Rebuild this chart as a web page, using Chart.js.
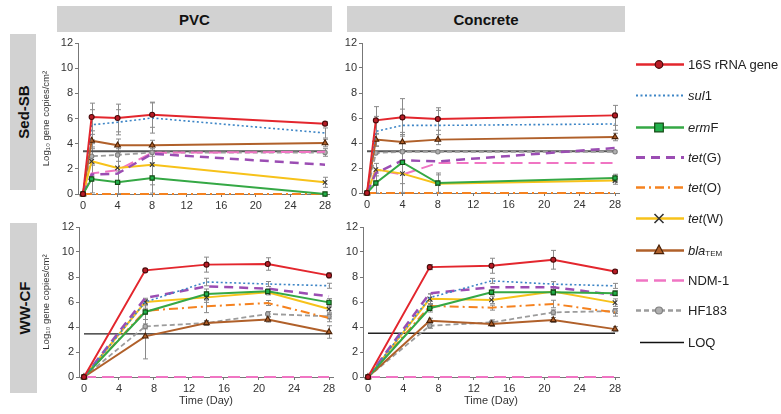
<!DOCTYPE html>
<html><head><meta charset="utf-8">
<script src="https://cdn.jsdelivr.net/npm/chart.js"></script>
<style>
body{margin:0;width:781px;height:414px;background:#fff;position:relative;overflow:hidden;font-family:"Liberation Sans",Arial,sans-serif;}
.hdr{position:absolute;background:#d2d2d2;font-weight:bold;font-size:15px;color:#111;display:flex;align-items:center;justify-content:center;}
.row{position:absolute;background:#d2d2d2;}
.row span{position:absolute;left:50%;top:50%;transform:translate(-50%,-50%) rotate(-90deg);font-weight:bold;font-size:15px;color:#111;white-space:nowrap;}
canvas.cv{position:absolute;}
#legend{position:absolute;left:630px;top:0;width:151px;height:414px;}
#legcv{position:absolute;left:0;top:0;}
.li{position:absolute;left:58px;font-size:13px;color:#222;white-space:nowrap;transform:translateY(-50%);}
.li sub{font-size:8px;vertical-align:-1px;}
</style></head><body>
<div class="hdr" id="h0" style="left:57px;top:6px;width:275px;height:26px;"></div>
<div class="hdr" id="h1" style="left:347px;top:6px;width:278px;height:26px;"></div>
<div class="row" style="left:10px;top:34px;width:26px;height:156px;"><span id="r0"></span></div>
<div class="row" style="left:10px;top:223px;width:27px;height:170px;"><span id="r1"></span></div>
<canvas class="cv" id="c0" width="302" height="184" style="left:38px;top:30px;"></canvas>
<canvas class="cv" id="c1" width="302" height="183" style="left:328px;top:30px;"></canvas>
<canvas class="cv" id="c2" width="306" height="194" style="left:38px;top:214px;"></canvas>
<canvas class="cv" id="c3" width="302" height="194" style="left:328px;top:214px;"></canvas>
<div id="legend"><canvas id="legcv" width="60" height="414"></canvas></div>
<script>
// ---------- DATA ----------
const panelTitles = ['PVC', 'Concrete'];
const rowTitles = ['Sed-SB', 'WW-CF'];
const seriesNames = ['16S rRNA gene', 'sul1', 'ermF', 'tet(G)', 'tet(O)', 'tet(W)', 'blaTEM', 'NDM-1', 'HF183'];
const legendHtml = ['16S rRNA gene', '<i>sul</i>1', '<i>erm</i>F', '<i>tet</i>(G)', '<i>tet</i>(O)', '<i>tet</i>(W)', '<i>bla</i><sub>TEM</sub>', 'NDM-1', 'HF183', 'LOQ'];
const sedDays = [0, 1, 4, 8, 28];
const wwDays = [0, 7, 14, 21, 28];
const xTickLabels = [0, 4, 8, 12, 16, 20, 24, 28];
const yTickLabels = [0, 2, 4, 6, 8, 10, 12];
const yTitle = 'Log\u2081\u2080 gene copies/cm\u00b2';
const xTitle = 'Time (Day)';

// PVC, Sed-SB
const pvcSed16S  = [0, 6.12, 6.04, 6.30, 5.59];
const pvcSedSul1 = [0, 5.50, 5.70, 6.04, 4.85];
const pvcSedErmF = [0, 1.19, 0.93, 1.27, 0.00];
const pvcSedTetG = [0, 1.55, 1.62, 3.20, 2.33];
const pvcSedTetO = [0, 0.00, 0.00, 0.00, 0.00];
const pvcSedTetW = [0, 2.60, 2.07, 2.33, 0.93];
const pvcSedBla  = [0, 4.24, 3.87, 3.87, 4.05];
const pvcSedNDM  = [0, 1.64, 1.90, 3.28, 3.35];
const pvcSedHF   = [0, 3.00, 3.10, 3.30, 3.30];
const pvcSedLOQ  = 3.4;
const pvcSed16SErr  = [0, 1.10, 1.10, 1.00, 0.15];
const pvcSedSul1Err = [0, 1.20, 1.00, 1.20, 0.40];
const pvcSedBlaErr  = [0, 0.50, 0.50, 0.40, 0.30];
const pvcSedTetWErr = [0, 1.40, 1.20, 1.60, 0.40];
const pvcSedErmFErr = [0, 1.10, 0.90, 1.20, 0.00];
const pvcSedHFErr   = [0, 0.60, 0.50, 0.30, 0.30];

// Concrete, Sed-SB
const conSed16S  = [0, 5.81, 6.05, 5.92, 6.21];
const conSedSul1 = [0, 4.93, 5.41, 5.41, 5.52];
const conSedErmF = [0, 0.80, 2.45, 0.80, 1.20];
const conSedTetG = [0, 1.60, 2.61, 2.53, 3.60];
const conSedTetO = [0, 0.00, 0.00, 0.00, 0.00];
const conSedTetW = [0, 1.87, 1.55, 0.75, 1.00];
const conSedBla  = [0, 4.27, 4.08, 4.27, 4.48];
const conSedNDM  = [0, 1.87, 1.47, 2.40, 2.40];
const conSedHF   = [0, 3.20, 3.30, 3.30, 3.30];
const conSedLOQ  = 3.35;
const conSed16SErr  = [0, 1.10, 1.50, 0.90, 0.80];
const conSedSul1Err = [0, 1.20, 1.30, 1.20, 0.50];
const conSedBlaErr  = [0, 0.50, 0.60, 0.40, 0.30];
const conSedErmFErr = [0, 0.80, 2.40, 0.80, 0.30];
const conSedTetWErr = [0, 0.50, 0.80, 0.70, 0.30];

// PVC, WW-CF
const pvcWw16S  = [0, 8.53, 8.99, 9.04, 8.13];
const pvcWwSul1 = [0, 6.00, 7.60, 7.44, 7.30];
const pvcWwErmF = [0, 5.20, 6.64, 6.85, 5.97];
const pvcWwTetG = [0, 6.32, 7.25, 7.07, 6.45];
const pvcWwTetO = [0, 5.30, 5.65, 5.92, 4.72];
const pvcWwTetW = [0, 6.00, 6.37, 6.77, 5.44];
const pvcWwBla  = [0, 3.25, 4.32, 4.59, 3.60];
const pvcWwNDM  = [0, 0.00, 0.00, 0.00, 0.00];
const pvcWwHF   = [0, 4.05, 4.32, 5.04, 4.85];
const pvcWwLOQ  = 3.45;
const pvcWw16SErr  = [0, 0.10, 0.60, 0.50, 0.20];
const pvcWwSul1Err = [0, 0.20, 0.30, 0.20, 0.20];
const pvcWwErmFErr = [0, 0.60, 0.40, 0.20, 0.30];
const pvcWwTetWErr = [0, 0.30, 0.40, 0.20, 0.30];
const pvcWwTetOErr = [0, 0.20, 0.50, 0.20, 0.30];
const pvcWwHFErr   = [0, 0.20, 0.20, 0.20, 0.20];
const pvcWwBlaErr  = [0, 1.80, 0.20, 0.20, 0.50];

// Concrete, WW-CF
const conWw16S  = [0, 8.79, 8.90, 9.38, 8.44];
const conWwSul1 = [0, 6.35, 7.69, 7.43, 7.29];
const conWwErmF = [0, 5.50, 6.78, 6.78, 6.70];
const conWwTetG = [0, 6.70, 7.18, 7.18, 6.57];
const conWwTetO = [0, 5.68, 5.55, 5.84, 5.17];
const conWwTetW = [0, 6.25, 6.17, 6.84, 5.95];
const conWwBla  = [0, 4.50, 4.24, 4.56, 3.83];
const conWwNDM  = [0, 0.00, 0.00, 0.00, 0.00];
const conWwHF   = [0, 4.10, 4.37, 5.17, 5.28];
const conWwLOQ  = 3.5;
const conWw16SErr  = [0, 0.20, 0.60, 0.75, 0.15];
const conWwSul1Err = [0, 0.30, 0.20, 0.20, 0.20];
const conWwErmFErr = [0, 0.30, 0.20, 0.20, 0.20];
const conWwTetWErr = [0, 0.40, 0.30, 0.30, 0.30];
const conWwTetOErr = [0, 0.20, 0.20, 0.30, 0.30];
const conWwHFErr   = [0, 0.20, 0.20, 0.20, 0.20];
const conWwBlaErr  = [0, 0.20, 0.20, 0.20, 0.20];

// ---------- STYLE ----------
const FONT = '"Liberation Sans", Arial, "DejaVu Sans", sans-serif';
const seriesStyle = [
  {color:'#e3262d', width:2,   dash:[],        point:'circle',   pr:2.5, pbg:'#b81c26', pbd:'#4a0a0a'},
  {color:'#3d85c6', width:1.6, dash:[2,2.5],   point:'circle',   pr:0},
  {color:'#35a845', width:2,   dash:[],        point:'rect',     pr:3,   pbg:'#22b14c', pbd:'#124a12'},
  {color:'#9b4db3', width:2.5, dash:[9,6],     point:'circle',   pr:0},
  {color:'#f5821f', width:2,   dash:[9,4,2,4], point:'circle',   pr:0},
  {color:'#f7c21a', width:2,   dash:[],        point:'crossRot', pr:3.2, pbg:'#333',  pbd:'#333'},
  {color:'#b0602a', width:2,   dash:[],        point:'triangle', pr:3.3, pbg:'#b0602a', pbd:'#4a2208'},
  {color:'#f075c3', width:2,   dash:[12,6],    point:'circle',   pr:0},
  {color:'#9c9c9c', width:1.8, dash:[5,3],     point:'circle',   pr:2.2, pbg:'#b0b0b0', pbd:'#808080'}
];

document.getElementById('h0').textContent = panelTitles[0];
document.getElementById('h1').textContent = panelTitles[1];
document.getElementById('r0').textContent = rowTitles[0];
document.getElementById('r1').textContent = rowTitles[1];

const errorBars = {
  id: 'errorBars',
  beforeDatasetsDraw(chart) {
    const ctx = chart.ctx, xs = chart.scales.x, ys = chart.scales.y;
    ctx.save();
    ctx.strokeStyle = '#8a8a8a';
    ctx.lineWidth = 1;
    ctx.setLineDash([]);
    chart.data.datasets.forEach(ds => {
      if (!ds.errors) return;
      ds.data.forEach((p, j) => {
        const e = ds.errors[j];
        if (!e) return;
        const x = Math.round(xs.getPixelForValue(p.x)) + 0.5;
        const yt = ys.getPixelForValue(p.y + e);
        const yb = ys.getPixelForValue(Math.max(0, p.y - e));
        ctx.beginPath();
        ctx.moveTo(x, yt); ctx.lineTo(x, yb);
        ctx.moveTo(x - 2.5, yt); ctx.lineTo(x + 2.5, yt);
        ctx.moveTo(x - 2.5, yb); ctx.lineTo(x + 2.5, yb);
        ctx.stroke();
      });
    });
    ctx.restore();
  }
};

function makePanel(id, days, vals, errs, loq, lay) {
  const datasets = vals.map((v, i) => {
    const s = seriesStyle[i];
    return {
      label: seriesNames[i],
      data: days.map((d, k) => ({x: d, y: v[k]})),
      errors: errs[i] || null,
      borderColor: s.color, borderWidth: s.width, borderDash: s.dash,
      pointStyle: s.point, pointRadius: s.pr, pointBackgroundColor: s.pbg || s.color,
      pointBorderColor: s.pbd || s.color, pointBorderWidth: 1.1,
      tension: 0, fill: false, clip: 8
    };
  });
  datasets.push({
    label: 'LOQ',
    data: [{x: xTickLabels[0], y: loq}, {x: xTickLabels[xTickLabels.length - 1], y: loq}],
    borderColor: lay.loqColor, borderWidth: lay.loqWidth, pointRadius: 0, fill: false
  });
  return new Chart(document.getElementById(id), {
    type: 'line',
    data: {datasets},
    plugins: [errorBars],
    options: {
      responsive: false, animation: false, devicePixelRatio: 1,
      layout: {padding: {top: 13, right: lay.padRight, left: 0, bottom: 0}},
      plugins: {legend: {display: false}, tooltip: {enabled: false}},
      scales: {
        x: {
          type: 'linear', min: lay.xmin, max: lay.xmax,
          afterBuildTicks: s => { s.ticks = xTickLabels.map(v => ({value: v})); },
          afterFit: s => { s.height = lay.xh; },
          grid: {drawOnChartArea: false, tickLength: 3, color: '#777'},
          border: {color: '#777', width: 1},
          ticks: {font: {size: 11, family: FONT}, color: '#333', padding: 2, maxRotation: 0, autoSkip: false},
          title: {display: lay.showX, text: xTitle, font: {size: 11, family: FONT}, color: '#333', padding: 0}
        },
        y: {
          min: 0, max: 12,
          afterBuildTicks: s => { s.ticks = yTickLabels.map(v => ({value: v})); },
          afterFit: s => { s.width = lay.yw; },
          grid: {drawOnChartArea: false, tickLength: 3, color: '#777'},
          border: {color: '#777', width: 1},
          ticks: {font: {size: 11, family: FONT}, color: '#333', padding: 2},
          title: {display: lay.showY, text: yTitle, font: {size: 9.5, family: FONT}, color: '#333', padding: {top: 3, bottom: 0}}
        }
      }
    }
  });
}

makePanel('c0', sedDays,
  [pvcSed16S, pvcSedSul1, pvcSedErmF, pvcSedTetG, pvcSedTetO, pvcSedTetW, pvcSedBla, pvcSedNDM, pvcSedHF],
  [pvcSed16SErr, pvcSedSul1Err, pvcSedErmFErr, null, null, pvcSedTetWErr, pvcSedBlaErr, null, pvcSedHFErr],
  pvcSedLOQ, {xmin: -0.578, xmax: 28.46, padRight: 11, yw: 40, xh: 20, showX: false, showY: true, loqColor: '#555', loqWidth: 2});
makePanel('c1', sedDays,
  [conSed16S, conSedSul1, conSedErmF, conSedTetG, conSedTetO, conSedTetW, conSedBla, conSedNDM, conSedHF],
  [conSed16SErr, conSedSul1Err, conSedErmFErr, null, null, conSedTetWErr, conSedBlaErr, null, null],
  conSedLOQ, {xmin: -0.565, xmax: 28.45, padRight: 11, yw: 34, xh: 20, showX: false, showY: false, loqColor: '#555', loqWidth: 2});
makePanel('c2', wwDays,
  [pvcWw16S, pvcWwSul1, pvcWwErmF, pvcWwTetG, pvcWwTetO, pvcWwTetW, pvcWwBla, pvcWwNDM, pvcWwHF],
  [pvcWw16SErr, pvcWwSul1Err, pvcWwErmFErr, null, pvcWwTetOErr, pvcWwTetWErr, pvcWwBlaErr, null, pvcWwHFErr],
  pvcWwLOQ, {xmin: -0.571, xmax: 28.457, padRight: 11, yw: 41, xh: 31, showX: true, showY: true, loqColor: '#222', loqWidth: 1.3});
makePanel('c3', wwDays,
  [conWw16S, conWwSul1, conWwErmF, conWwTetG, conWwTetO, conWwTetW, conWwBla, conWwNDM, conWwHF],
  [conWw16SErr, conWwSul1Err, conWwErmFErr, null, conWwTetOErr, conWwTetWErr, conWwBlaErr, null, conWwHFErr],
  conWwLOQ, {xmin: -0.567, xmax: 28.45, padRight: 11, yw: 35, xh: 31, showX: true, showY: false, loqColor: '#222', loqWidth: 1.3});

// ---------- LEGEND ----------
const legendY = [64, 95, 127, 157, 187, 218, 250, 280, 310, 342];
const leg = document.getElementById('legend');
legendHtml.forEach((h, i) => {
  const d = document.createElement('div');
  d.className = 'li';
  d.style.top = legendY[i] + 'px';
  d.innerHTML = h;
  leg.appendChild(d);
});
const lc = document.getElementById('legcv').getContext('2d');
function drawMarker(ctx, style, x, y, r, bg, bd) {
  ctx.save();
  ctx.setLineDash([]);
  ctx.fillStyle = bg; ctx.strokeStyle = bd; ctx.lineWidth = 1.2;
  ctx.beginPath();
  if (style === 'circle') { ctx.arc(x, y, r, 0, Math.PI * 2); ctx.fill(); ctx.stroke(); }
  else if (style === 'rect') { ctx.rect(x - r, y - r, 2 * r, 2 * r); ctx.fill(); ctx.stroke(); }
  else if (style === 'triangle') { ctx.moveTo(x, y - r * 1.2); ctx.lineTo(x + r, y + r * 0.7); ctx.lineTo(x - r, y + r * 0.7); ctx.closePath(); ctx.fill(); ctx.stroke(); }
  else if (style === 'crossRot') { ctx.lineWidth = 1.6; ctx.moveTo(x - r, y - r); ctx.lineTo(x + r, y + r); ctx.moveTo(x + r, y - r); ctx.lineTo(x - r, y + r); ctx.stroke(); }
  ctx.restore();
}
seriesStyle.forEach((s, i) => {
  const y = legendY[i] + 0.5;
  lc.save();
  lc.strokeStyle = s.color; lc.lineWidth = s.width + 0.5; lc.setLineDash(s.dash);
  lc.beginPath(); lc.moveTo(6, y); lc.lineTo(54, y); lc.stroke();
  lc.restore();
  if (s.pr > 0) drawMarker(lc, s.point, 29, y, s.pr + 1.3, s.pbg, s.pbd);
});
lc.strokeStyle = '#111'; lc.lineWidth = 1.5; lc.setLineDash([]);
lc.beginPath(); lc.moveTo(10, legendY[9] + 0.5); lc.lineTo(54, legendY[9] + 0.5); lc.stroke();
</script>
</body></html>
